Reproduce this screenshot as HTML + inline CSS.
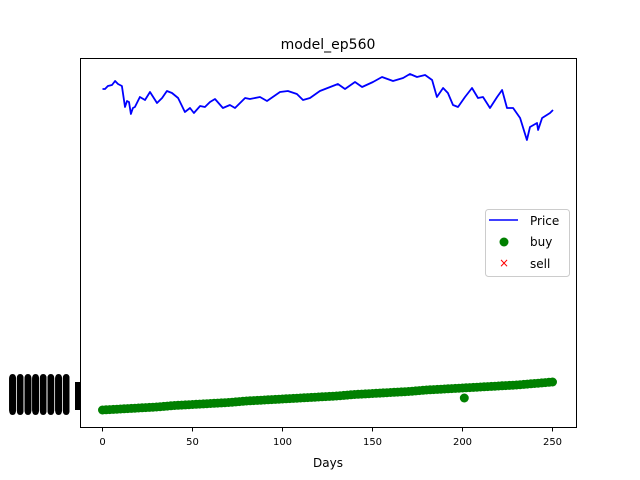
<!DOCTYPE html>
<html><head><meta charset="utf-8"><style>
body{margin:0;background:#fff}
svg{display:block;font-family:"DejaVu Sans","Liberation Sans",sans-serif}
</style></head><body>
<svg id="chart" width="640" height="480" viewBox="0 0 640 480" xmlns="http://www.w3.org/2000/svg">
<rect x="0" y="0" width="640" height="480" fill="#fff"/>
<text x="328" y="49" text-anchor="middle" font-size="14">model_ep560</text>
<g id="ylabels"></g>
<g id="plot"></g>
<rect x="80.5" y="58.5" width="496" height="369" fill="none" stroke="#000" stroke-width="1"/>
<g id="xticks"></g>
<text x="328" y="467" text-anchor="middle" font-size="12">Days</text>
<g>
<rect x="485.5" y="209.5" width="84" height="67" rx="3" fill="#fff" fill-opacity="0.8" stroke="#ccc"/>
<line x1="489" y1="220" x2="518" y2="220" stroke="#0000ff" stroke-width="1.5"/>
<text x="530" y="225" font-size="12">Price</text>
<circle cx="504" cy="242" r="4.5" fill="#008000"/>
<text x="530" y="246" font-size="12">buy</text>
<text x="504" y="267" font-size="12" fill="#ff0000" text-anchor="middle">×</text>
<text x="530" y="268" font-size="12">sell</text>
</g>
</svg>
<script>
const priceDays=[0,1.4,3,5.3,7,8.6,10.8,12.5,13.6,14.7,15.8,16.9,18,20.8,23.6,26.4,30.3,33.1,35.8,38.6,42,45.8,48.6,50.8,54.2,56.9,59.7,62.5,66.9,70.8,73.6,79.2,81.9,87.5,91.4,98.6,103,108,111.4,115.3,120.8,130.8,134.7,140.3,144.2,150.3,155.3,161.4,167,170.8,174.7,179.2,183.1,185.8,189.2,191.9,194.7,197.5,201.4,205.3,208.6,211.4,215.3,219.2,222,224.7,228.1,232,235.8,237.5,241.4,242,244.2,248.6,250.3];
const priceVals=[338,338,341,342,346,343,341,320,326,325,313,319,320,330,327,335,324,329,336,334,329,315,319,314,321,320,325,328,319,322,319,329,328,330,326,335,336,333,327,329,336,343,338,345,340,345,350,346,349,353,350,352,347,330,339,334,322,320,330,339,329,330,319,330,337,319,319,309,287,300,304,297,309,314,317];
const buyDays=[0,10,20,30,40,50,60,70,80,90,100,110,120,130,140,150,160,170,180,190,200,210,220,230,240,250];
const buyVals=[17,18,19,20,21.5,22.5,23.5,24.5,26,27,28,29,30,31,32.5,33.5,34.5,35.5,37,38,39,40,41,42,43.5,45];
const oddBuyDays=[201];
const oddBuyVals=[29];
const xTicks=[0,50,100,150,200,250];
function xs(d){return 102.5+d*1.8;}
function ys(v){return 427-v;}
const NS="http://www.w3.org/2000/svg";
const plot=document.getElementById('plot');
const n=Math.min(priceDays.length,priceVals.length);
let pts=[];for(let i=0;i<n;i++)pts.push(xs(priceDays[i]).toFixed(1)+","+ys(priceVals[i]).toFixed(1));
const pl=document.createElementNS(NS,'polyline');


pl.setAttribute('points',pts.join(' '));pl.setAttribute('fill','none');pl.setAttribute('stroke','#0000ff');pl.setAttribute('stroke-width','1.8');pl.setAttribute('stroke-linejoin','round');
plot.appendChild(pl);
function dot(d,v){const c=document.createElementNS(NS,'circle');


c.setAttribute('cx',xs(d));c.setAttribute('cy',ys(v));c.setAttribute('r',4.5);c.setAttribute('fill','#008000');plot.appendChild(c);}
for(let i=0;i<buyDays.length-1;i++){for(let s=0;s<10;s+=2){const t=s/10;dot(buyDays[i]+(buyDays[i+1]-buyDays[i])*t,buyVals[i]+(buyVals[i+1]-buyVals[i])*t);}}
dot(buyDays[buyDays.length-1],buyVals[buyVals.length-1]);
for(let i=0;i<oddBuyDays.length;i++)dot(oddBuyDays[i],oddBuyVals[i]);
const xt=document.getElementById('xticks');
xTicks.forEach(t=>{const l=document.createElementNS(NS,'line');


l.setAttribute('x1',xs(t));l.setAttribute('x2',xs(t));l.setAttribute('y1',427.5);l.setAttribute('y2',431.5);l.setAttribute('stroke','#000');xt.appendChild(l);
const tx=document.createElementNS(NS,'text');


tx.setAttribute('x',xs(t));tx.setAttribute('y',445);tx.setAttribute('text-anchor','middle');tx.setAttribute('font-size','10');tx.textContent=t;xt.appendChild(tx);});
const yl=document.getElementById('ylabels');
for(let v=buyVals[0]-1;v<=buyVals[buyVals.length-1]+4;v+=0.5){
const tx=document.createElementNS(NS,'text');


tx.setAttribute('x',70);tx.setAttribute('y',ys(v)+4);tx.setAttribute('text-anchor','end');tx.setAttribute('font-size','11');tx.setAttribute('font-weight','bold');tx.textContent='00000000';yl.appendChild(tx);}
const r=document.createElementNS(NS,'rect');


r.setAttribute('x',75);r.setAttribute('y',ys(buyVals[buyVals.length-1]));r.setAttribute('width',5);r.setAttribute('height',buyVals[buyVals.length-1]-buyVals[0]);r.setAttribute('fill','#000');yl.appendChild(r);
</script>
</body></html>
